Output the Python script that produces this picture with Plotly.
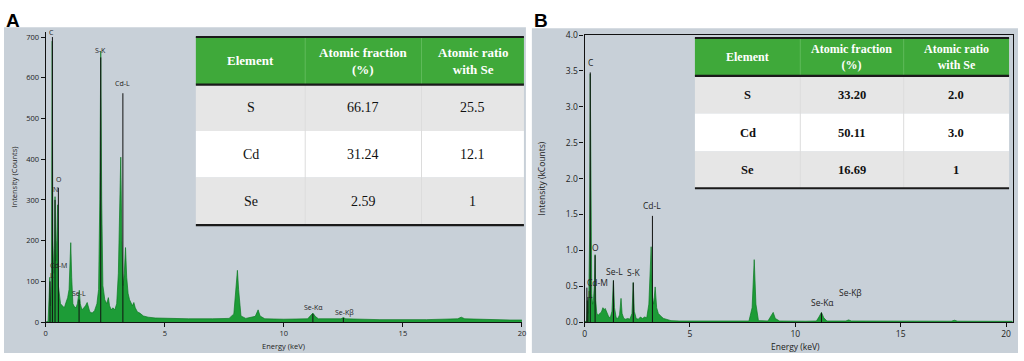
import plotly.graph_objects as go

# ---------------- DATA ----------------
# Panel A spectrum (energy keV, counts)
a_energy = [0.00, 0.10, 0.14, 0.17, 0.20, 0.24, 0.27, 0.30, 0.34, 0.37, 0.39, 0.42, 0.46, 0.50, 0.53,
            0.57, 0.62, 0.70, 0.78, 0.85, 0.92, 0.98, 1.02, 1.05, 1.09, 1.14, 1.20, 1.27, 1.33, 1.38,
            1.41, 1.45, 1.52, 1.60, 1.67, 1.74, 1.78, 1.85, 1.95, 2.05, 2.15, 2.22, 2.27, 2.31, 2.35,
            2.40, 2.48, 2.56, 2.63, 2.68, 2.75, 2.82, 2.90, 2.98, 3.05, 3.10, 3.15, 3.20, 3.25, 3.30,
            3.35, 3.40, 3.46, 3.52, 3.58, 3.64, 3.70, 3.76, 3.85, 3.95, 4.10, 4.30, 4.60, 5.00, 6.00,
            7.00, 7.70, 7.90, 8.00, 8.05, 8.10, 8.20, 8.40, 8.80, 8.92, 9.00, 9.20, 10.00, 11.00, 11.12,
            11.22, 11.32, 11.45, 12.40, 12.50, 12.60, 14.00, 16.00, 17.30, 17.45, 17.60, 19.50, 20.00]
a_counts = [0, 2, 60, 110, 40, 120, 690, 200, 120, 180, 308, 150, 200, 288, 90,
            60, 45, 40, 35, 48, 60, 80, 140, 195, 110, 45, 38, 35, 45, 70,
            78, 45, 30, 35, 40, 48, 40, 25, 22, 28, 45, 80, 300, 665, 300,
            90, 55, 45, 60, 40, 30, 35, 30, 45, 120, 250, 405, 200, 90, 120,
            183, 110, 70, 55, 45, 40, 48, 35, 25, 22, 15, 12, 10, 9, 8,
            8, 9, 20, 90, 127, 80, 15, 9, 14, 30, 15, 8, 7, 8, 15,
            22, 14, 8, 8, 11, 8, 6, 6, 8, 12, 8, 5, 5]

# Panel B spectrum (energy keV, kCounts)
b_energy = [0.00, 0.10, 0.13, 0.16, 0.20, 0.24, 0.27, 0.30, 0.34, 0.38, 0.42, 0.47, 0.50, 0.53, 0.58,
            0.65, 0.72, 0.80, 0.87, 0.93, 0.98, 1.03, 1.08, 1.15, 1.22, 1.30, 1.37, 1.42, 1.50, 1.58,
            1.66, 1.73, 1.78, 1.86, 1.95, 2.05, 2.15, 2.25, 2.31, 2.36, 2.45, 2.55, 2.65, 2.75, 2.85,
            2.95, 3.05, 3.12, 3.16, 3.22, 3.28, 3.35, 3.42, 3.50, 3.58, 3.66, 3.75, 3.90, 4.10, 4.50,
            5.50, 7.00, 7.80, 7.95, 8.05, 8.13, 8.25, 8.70, 8.85, 8.95, 9.05, 9.25, 10.50, 11.00, 11.12,
            11.24, 11.35, 11.50, 12.40, 12.53, 12.66, 15.80, 15.95, 16.10, 17.40, 17.55, 17.70, 20.30]
b_kcounts = [0.0, 0.02, 0.30, 0.12, 0.35, 1.2, 3.46, 1.0, 0.40, 0.25, 0.30, 0.55, 0.94, 0.30, 0.12,
             0.10, 0.12, 0.14, 0.20, 0.17, 0.19, 0.15, 0.12, 0.07, 0.06, 0.15, 0.58, 0.20, 0.06, 0.05,
             0.10, 0.33, 0.12, 0.05, 0.04, 0.05, 0.04, 0.12, 0.55, 0.15, 0.05, 0.04, 0.07, 0.05, 0.07,
             0.06, 0.25, 0.80, 1.05, 0.35, 0.25, 0.49, 0.20, 0.12, 0.09, 0.07, 0.05, 0.04, 0.02, 0.015,
             0.012, 0.012, 0.015, 0.20, 0.87, 0.25, 0.02, 0.015, 0.08, 0.135, 0.05, 0.015, 0.012, 0.015, 0.07,
             0.135, 0.06, 0.015, 0.015, 0.03, 0.015, 0.012, 0.02, 0.012, 0.012, 0.025, 0.012, 0.01]

# Peak identification markers (line energy, line top) and labels (text, energy, height)
a_lines_e = [0.18, 0.28, 0.39, 0.53, 1.40, 2.31, 3.24, 11.22, 12.50]
a_lines_h = [100, 700, 300, 330, 55, 650, 562, 20, 10]
a_labels = ["C", "N", "O", "Cd-M", "L", "Se-L", "S-K", "Cd-L", "Se-Kα", "Se-Kβ"]
a_labels_e = [0.25, 0.42, 0.55, 0.55, 0.28, 1.40, 2.31, 3.24, 11.25, 12.54]
a_labels_h = [700, 314, 340, 129, 103, 58, 657, 574, 24, 13]

b_lines_e = [0.11, 0.16, 0.27, 0.50, 1.37, 2.31, 3.22, 11.24]
b_lines_h = [0.48, 0.35, 3.48, 0.93, 0.58, 0.55, 1.48, 0.13]
b_labels = ["C", "O", "Cd-M", "L", "Se-L", "S-K", "Cd-L", "Se-Kα", "Se-Kβ"]
b_labels_e = [0.30, 0.50, 0.62, 0.30, 1.42, 2.32, 3.22, 11.30, 12.60]
b_labels_h = [3.54, 0.96, 0.48, 0.31, 0.63, 0.62, 1.55, 0.19, 0.34]

# Tables
table_header = ["Element", "Atomic fraction<br>(%)", "Atomic ratio<br>with Se"]
table_elements = ["S", "Cd", "Se"]
a_fraction = ["66.17", "31.24", "2.59"]
a_ratio = ["25.5", "12.1", "1"]
b_fraction = ["33.20", "50.11", "16.69"]
b_ratio = ["2.0", "3.0", "1"]

x_ticks = [0, 5, 10, 15, 20]

# ---------------- LAYOUT HELPERS ----------------
W, H = 1024, 361
def px(x):
    return x / W
def py(y):
    return 1 - y / H

PANEL_BG = "#c8d0d8"
GREEN_LINE = "#0c7a22"
GREEN_FILL = "#1d9c37"
HEADER_GREEN = "#3fa93a"
ROW_GREY = "#e6e6e6"
SANS = "Open Sans, DejaVu Sans, sans-serif"
SERIF = "Liberation Serif, Times New Roman, serif"

fig = go.Figure()

fig.add_trace(go.Scatter(x=a_energy, y=a_counts, mode="lines", fill="tozeroy",
                         line=dict(color=GREEN_LINE, width=0.7), fillcolor=GREEN_FILL,
                         xaxis="x", yaxis="y", hoverinfo="skip", showlegend=False))
fig.add_trace(go.Scatter(x=b_energy, y=b_kcounts, mode="lines", fill="tozeroy",
                         line=dict(color=GREEN_LINE, width=0.7), fillcolor=GREEN_FILL,
                         xaxis="x2", yaxis="y2", hoverinfo="skip", showlegend=False))

shapes = []
annotations = []

def ann(**kw):
    kw.setdefault("showarrow", False)
    kw.setdefault("xanchor", "center")
    kw.setdefault("yanchor", "middle")
    annotations.append(kw)

# panel backgrounds
shapes.append(dict(type="rect", xref="paper", yref="paper", x0=px(2), x1=px(527), y0=py(358), y1=py(22),
                   fillcolor=PANEL_BG, line=dict(width=0), layer="below"))
shapes.append(dict(type="rect", xref="paper", yref="paper", x0=px(533), x1=px(1022), y0=py(358), y1=py(23),
                   fillcolor=PANEL_BG, line=dict(width=0), layer="below"))

# peak marker lines
for e, h in zip(a_lines_e, a_lines_h):
    shapes.append(dict(type="line", xref="x", yref="y", x0=e, x1=e, y0=0, y1=h,
                       line=dict(color="#111", width=1), layer="above"))
for e, h in zip(b_lines_e, b_lines_h):
    shapes.append(dict(type="line", xref="x2", yref="y2", x0=e, x1=e, y0=0, y1=h,
                       line=dict(color="#111", width=1), layer="above"))

for t, e, h in zip(a_labels, a_labels_e, a_labels_h):
    ann(text=t, x=e, y=h, xref="x", yref="y", yanchor="bottom", yshift=-2,
        font=dict(family=SANS, size=7, color="#222"))
for t, e, h in zip(b_labels, b_labels_e, b_labels_h):
    ann(text=t, x=e, y=h, xref="x2", yref="y2", yanchor="bottom", yshift=-2,
        font=dict(family=SANS, size=8.5, color="#222"))

# tables
def add_table(x_edges, y_edges, fractions, ratios, head_size, body_size, body_bold):
    shapes.append(dict(type="rect", xref="paper", yref="paper", x0=px(x_edges[0]), x1=px(x_edges[-1]),
                       y0=py(y_edges[1]), y1=py(y_edges[0]), fillcolor=HEADER_GREEN,
                       line=dict(width=0), layer="above"))
    fills = [ROW_GREY, "#ffffff", ROW_GREY]
    for r in range(3):
        shapes.append(dict(type="rect", xref="paper", yref="paper", x0=px(x_edges[0]), x1=px(x_edges[-1]),
                           y0=py(y_edges[r + 2]), y1=py(y_edges[r + 1]), fillcolor=fills[r],
                           line=dict(width=0), layer="above"))
    for cx in x_edges[1:-1]:
        shapes.append(dict(type="line", xref="paper", yref="paper", x0=px(cx), x1=px(cx),
                           y0=py(y_edges[1]), y1=py(y_edges[0]), line=dict(color="#5fba5a", width=1),
                           layer="above"))
        shapes.append(dict(type="line", xref="paper", yref="paper", x0=px(cx), x1=px(cx),
                           y0=py(y_edges[-1]), y1=py(y_edges[1]), line=dict(color="#dcdcdc", width=1),
                           layer="above"))
    for yy in (y_edges[0], y_edges[1], y_edges[-1]):
        shapes.append(dict(type="line", xref="paper", yref="paper", x0=px(x_edges[0]), x1=px(x_edges[-1]),
                           y0=py(yy), y1=py(yy), line=dict(color="#1a1a1a", width=2.2), layer="above"))
    centers = [(x_edges[i] + x_edges[i + 1]) / 2 for i in range(3)]
    for i, t in enumerate(table_header):
        ann(text="<b>" + t + "</b>", x=px(centers[i]), y=py((y_edges[0] + y_edges[1]) / 2),
            xref="paper", yref="paper", font=dict(family=SERIF, size=head_size, color="white"))
    for r in range(3):
        vals = [table_elements[r], fractions[r], ratios[r]]
        for i, v in enumerate(vals):
            txt = "<b>" + v + "</b>" if body_bold else v
            ann(text=txt, x=px(centers[i]), y=py((y_edges[r + 1] + y_edges[r + 2]) / 2),
                xref="paper", yref="paper", font=dict(family=SERIF, size=body_size, color="#111"))

add_table([195, 305, 422, 525], [32, 81, 129, 177, 226], a_fraction, a_ratio, 13, 14, False)
add_table([697, 803, 907, 1013], [33, 72, 111, 150, 188], b_fraction, b_ratio, 12, 12.5, True)

# panel labels
ann(text="<b>A</b>", x=px(2), y=py(2), xref="paper", yref="paper", xanchor="left", yanchor="top",
    font=dict(family="Liberation Sans, Arial", size=19, color="black"))
ann(text="<b>B</b>", x=px(533), y=py(2), xref="paper", yref="paper", xanchor="left", yanchor="top",
    font=dict(family="Liberation Sans, Arial", size=19, color="black"))

# axis titles
ann(text="Intensity (Counts)", x=px(12), y=py(176), xref="paper", yref="paper", textangle=-90,
    font=dict(family=SANS, size=7.5, color="#222"))
ann(text="Intensity (kCounts)", x=px(543), y=py(178), xref="paper", yref="paper", textangle=-90,
    font=dict(family=SANS, size=8.5, color="#222"))
ann(text="Energy (keV)", x=px(283), y=py(351), xref="paper", yref="paper",
    font=dict(family=SANS, size=7.5, color="#222"))
ann(text="Energy (keV)", x=px(798), y=py(351), xref="paper", yref="paper",
    font=dict(family=SANS, size=8.5, color="#222"))

axis_common = dict(showgrid=False, zeroline=False, showline=True, linecolor="#111", linewidth=1.2,
                   ticks="outside", ticklen=4, tickcolor="#111")

fig.update_layout(
    width=W, height=H, margin=dict(l=0, r=0, t=0, b=0),
    paper_bgcolor="white", plot_bgcolor="rgba(0,0,0,0)", showlegend=False,
    xaxis=dict(domain=[px(44), px(523)], range=[0, 20], tickvals=x_ticks, anchor="y", mirror=False,
               tickfont=dict(family=SANS, size=7.5, color="#222"), **axis_common),
    yaxis=dict(domain=[py(326), py(27)], range=[0, 712], dtick=100, anchor="x",
               tickfont=dict(family=SANS, size=7.5, color="#222"), **axis_common),
    xaxis2=dict(domain=[px(586), px(1017)], range=[0, 20.33], tickvals=x_ticks, anchor="y2", mirror=True,
                tickfont=dict(family=SANS, size=8.5, color="#222"), **axis_common),
    yaxis2=dict(domain=[py(326), py(30)], range=[0, 4.0], dtick=0.5, tickformat=".1f", anchor="x2", mirror=True,
                tickfont=dict(family=SANS, size=8.5, color="#222"), **axis_common),
    shapes=shapes, annotations=annotations,
)

fig.write_html("out.html", config={"displayModeBar": False},
               post_script="document.body.style.margin='0';document.body.style.padding='0';"
                           "document.body.style.overflow='hidden';")
